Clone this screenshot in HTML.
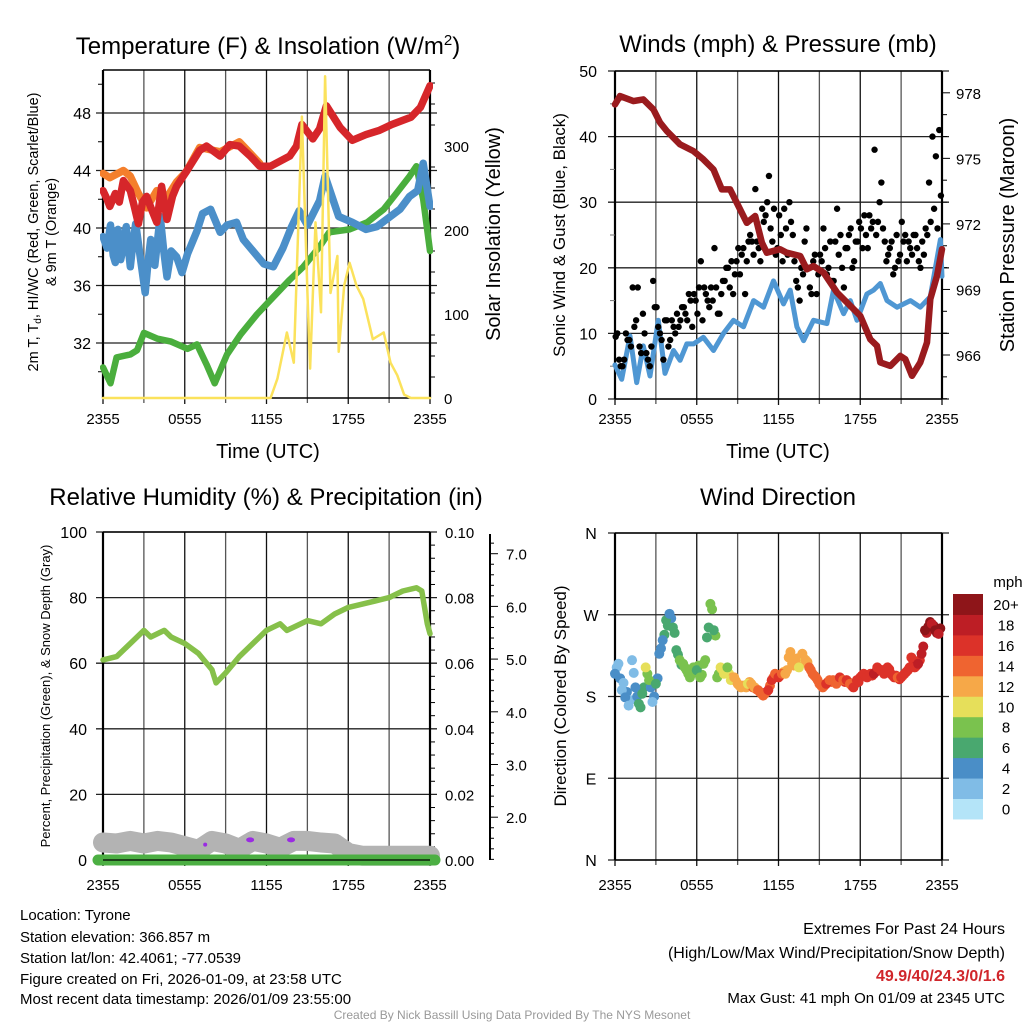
<!DOCTYPE html>
<html><head><meta charset="utf-8"><style>
body{margin:0;background:#fff}
svg{display:block;font-family:"Liberation Sans",sans-serif}
</style></head><body>
<svg id="c" width="1024" height="1024" viewBox="0 0 1024 1024" xmlns="http://www.w3.org/2000/svg">
<rect width="1024" height="1024" fill="#fff"/>
<g id="p1"></g>
<g id="p2"></g>
<g id="p3"></g>
<g id="p4"></g>
<text x="268" y="54" font-size="24" text-anchor="middle">Temperature (F) &amp; Insolation (W/m<tspan dy="-9" font-size="15">2</tspan><tspan dy="9">)</tspan></text>
<text x="778" y="52" font-size="24" text-anchor="middle">Winds (mph) &amp; Pressure (mb)</text>
<text x="266" y="505" font-size="24" text-anchor="middle">Relative Humidity (%) &amp; Precipitation (in)</text>
<text x="778" y="505" font-size="24" text-anchor="middle">Wind Direction</text>
<text x="268" y="458" font-size="20" text-anchor="middle">Time (UTC)</text>
<text x="778" y="458" font-size="20" text-anchor="middle">Time (UTC)</text>
<text transform="translate(38,232) rotate(-90)" font-size="14.5" text-anchor="middle">2m T, T<tspan dy="3" font-size="10">d</tspan><tspan dy="-3">, HI/WC (Red, Green, Scarlet/Blue)</tspan></text>
<text transform="translate(56,232) rotate(-90)" font-size="14.5" text-anchor="middle">&amp; 9m T (Orange)</text>
<text transform="translate(500,234) rotate(-90)" font-size="20" text-anchor="middle">Solar Insolation (Yellow)</text>
<text transform="translate(565,235) rotate(-90)" font-size="17" text-anchor="middle">Sonic Wind &amp; Gust (Blue, Black)</text>
<text transform="translate(1014,235) rotate(-90)" font-size="20" text-anchor="middle">Station Pressure (Maroon)</text>
<text transform="translate(50,696) rotate(-90)" font-size="13" text-anchor="middle">Percent, Precipitation (Green), &amp; Snow Depth (Gray)</text>
<text transform="translate(566,696) rotate(-90)" font-size="17" text-anchor="middle">Direction (Colored By Speed)</text>
<g font-size="15">
<text x="20" y="920">Location: Tyrone</text>
<text x="20" y="942">Station elevation: 366.857 m</text>
<text x="20" y="963">Station lat/lon: 42.4061; -77.0539</text>
<text x="20" y="984">Figure created on Fri, 2026-01-09, at 23:58 UTC</text>
<text x="20" y="1004">Most recent data timestamp: 2026/01/09 23:55:00</text>
</g>
<g font-size="16" text-anchor="end">
<text x="1005" y="934">Extremes For Past 24 Hours</text>
<text x="1005" y="958">(High/Low/Max Wind/Precipitation/Snow Depth)</text>
<text x="1005" y="981" fill="#d0262b" font-weight="bold">49.9/40/24.3/0/1.6</text>
<text x="1005" y="1003" font-size="15">Max Gust: 41 mph On 01/09 at 2345 UTC</text>
</g>
<text x="512" y="1019" font-size="12" fill="#999" text-anchor="middle">Created By Nick Bassill Using Data Provided By The NYS Mesonet</text>
</svg>
<script>
// ---- Temperature panel data (hour, value) ----
const redH=[0,0.3,0.5,0.9,1.2,1.5,2,2.3,2.6,2.9,3.2,3.6,3.95,4.3,4.7,5.1,5.4,6.1,7.1,7.6,8.6,9.3,10,10.8,11.5,12.3,13.7,14.2,14.6,15.4,15.9,16.4,17.4,18.3,19.3,20.3,21.2,22.6,23.3,24];
const redV=[42.6,42,41.5,42.4,41.8,43.3,42.6,41.5,40.3,41.8,42.2,41.2,40.4,42.9,40.6,42.2,42.9,43.9,45.4,45.7,45,45.8,45.7,45,44.3,44.3,45,45.7,47.2,46.2,46.9,48.5,47,46.1,46.5,46.8,47.2,47.7,48.4,49.9];
const orH=[0,0.5,1.5,2,2.6,3.2,3.95,4.6,5.4,6.1,7.1,8.6,10,11.5];
const orV=[43.8,43.5,44,43.6,42.4,41.4,42.6,42,43.2,43.9,45.6,45.3,46,44.5];
const blueH=[0,0.3,0.55,0.75,0.9,1.1,1.3,1.5,1.7,2,2.2,2.4,2.7,3.1,3.3,3.5,3.8,4.2,4.45,4.7,5,5.4,5.8,6.2,6.9,7.3,7.9,8.6,9.1,9.8,10.3,11.8,12.5,13.2,13.8,14.4,15,15.9,16.3,17.3,18.3,19.3,20.1,21.8,22.5,23.1,23.5,24];
const blueV=[39.4,38.6,40.2,38.1,37.6,39.9,37.8,38.7,40.1,37.3,39,40.3,38.2,35.5,37.6,39.2,37.4,40.8,38.5,36.6,38.4,38,36.9,38.2,39.8,41,41.3,39.7,40.2,40.4,39.2,37.5,37.3,38.6,40,41.2,40.2,41.9,43.6,40.8,40.4,39.9,40.1,41.3,42.2,42.6,44.5,41.5];
const grnH=[0,0.55,1,2,2.5,3,4,5,6.2,6.9,7.6,8.2,9.1,10.1,11.3,12.3,13.7,14.7,15.9,16.6,18.1,19.4,20.6,21.6,22.5,23,23.5,24];
const grnV=[30.3,29.2,31,31.2,31.5,32.7,32.3,32.1,31.6,31.9,30.5,29.2,31.2,32.6,34,35,36.4,37.3,38.7,39.7,39.9,40.4,41.3,42.5,43.6,44.3,42,38.4];
const solH=[0,12.3,12.8,13.5,14,14.6,15,15.2,15.6,16,16.3,16.7,17.2,17.3,17.7,18.1,18.6,19.1,19.8,20.6,21.1,21.6,22.1,22.6,24];
const solV=[0,0,23,78,42,335,126,35,209,102,383,125,169,55,134,161,134,118,70,78,42,27,4,0,0];
const tempTicks=[32,36,40,44,48];
const solTicks=[0,100,200,300];
const timeLabels=["2355","0555","1155","1755","2355"];
// ---- Winds panel data ----
const presH=[0,0.37,1.35,2.08,2.82,3.31,3.8,4.78,5.76,6.49,7.23,7.84,8.45,9.06,9.67,10.29,10.78,11.14,12.12,12.61,13.59,14.08,14.57,15.31,16.29,17.27,18,18.74,19.23,19.47,20.21,20.94,21.31,21.8,22.41,22.9,23.14,23.63,24];
const presV=[977.47,977.85,977.62,977.7,977.24,976.63,976.25,975.64,975.33,974.95,974.49,973.58,973.58,972.82,972.05,972.36,971.14,970.68,970.84,970.68,970.53,969.92,970.07,969.77,968.86,968.25,967.79,966.72,966.42,965.66,965.5,965.96,965.81,965.05,965.66,966.57,968.56,969.62,970.84];
const windH=[0,0.49,1.1,1.59,2.08,2.57,3.18,3.67,4.29,4.78,5.27,5.76,6.49,7.23,7.96,8.7,9.43,10.17,10.9,11.63,12.37,12.86,13.35,13.84,14.57,15.55,16.04,16.78,17.27,17.76,18.49,18.98,19.47,19.96,20.7,21.68,22.41,23.14,23.88,24];
const windV=[5.2,3,9.6,2.5,8.1,3.5,12,3.9,7.4,5.9,8.4,8.4,9.4,7.4,10,12,11,15,14,18,14.5,16.6,11,8.9,12,11.5,16.6,13,15,12,16,16.6,17.6,15,14,15,14,15.6,24.3,18.7];
const gustA=[9.5,6,5,10,9,17,12,8,13,7,5,18,14,10,6,12,9,11,13,12,14,12,15,16,13,21,17,15,17,23,13,16,18,20,21,19,23,22,16,24,24,32,23,29,28,34,24,22,28,21,26,30,25,18,15,19,26,17,21,16,22,26,19,24,18,29,25,17,23,26,21,24,26,28,23,26,38,27,33,24,22,24,20,21,27,25,24,22,25,21,24,26,33,40,37,41];
const gustB=[10,5,6,9,8,11,17,7,10,6,8,14,11,9,12,8,12,10,11,14,13,16,11,15,17,12,16,14,15,17,13,18,20,17,16,21,19,23,21,25,22,24,21,27,30,26,29,23,25,29,22,27,21,17,20,24,20,16,22,19,21,23,20,18,24,22,20,23,25,20,24,27,23,25,28,27,25,30,26,21,23,19,25,22,24,21,23,25,23,20,22,25,27,29,26,31];
const windTicks=[0,10,20,30,40,50];
const presTicks=[966,969,972,975,978];
// ---- Humidity panel data ----
const rhH=[0,1,2,3,3.5,4.5,5,6,7,8,8.3,9,10,11,12,13,13.5,14,15,16,17,18,19,20,21,22,23,23.4,23.8,24];
const rhV=[61,62,66,70,68,70,68,66,63,58,54,57,62,66,70,72,70,71,73,72,75,77,78,79,80,82,83,82,72,69];
const snowH=[0,1,2,3,4,5,6,7,8,9,10,11,12,13,14,15,16,17,18,19,20,21,22,23,24];
const snowV=[1.52,1.5,1.55,1.5,1.55,1.52,1.45,1.38,1.55,1.5,1.4,1.55,1.5,1.42,1.55,1.55,1.52,1.5,1.32,1.27,1.27,1.27,1.27,1.27,1.27];
const purpleH=[7.5,10.8,13.8];
const purpleV=[1.48,1.57,1.57];
const rhTicks=[0,20,40,60,80,100];
const precTicks=["0.00","0.02","0.04","0.06","0.08","0.10"];
const snowTicks=["2.0","3.0","4.0","5.0","6.0","7.0"];
// ---- Wind direction data (every 15 min) ----
const dirV=[205,216,187,179,170,220,190,172,183,212,198,174,194,227,242,264,271,256,231,220,216,209,201,212,209,201,216,245,282,253,201,212,205,212,198,201,194,190,192,194,194,190,187,183,183,187,198,205,201,205,205,223,216,220,212,227,220,212,205,201,194,190,194,198,198,194,201,198,198,194,190,198,201,205,201,205,205,212,209,205,212,205,201,201,201,205,209,223,212,216,227,253,257,260,253,249];
const spdV=[4,3,2,5,3,2,4,7,6,10,8,3,6,4,5,7,4,6,7,8,8,9,8,9,7,9,8,7,8,7,9,10,10,9,11,12,12,13,12,11,13,13,15,14,15,16,16,15,16,14,13,12,13,12,11,12,13,14,15,14,15,14,16,15,14,15,16,15,16,15,16,17,16,17,17,16,18,17,16,17,16,17,16,15,16,17,17,16,17,18,19,20,21,19,20,19];
const dirV2=[212,200,195,185,176,206,180,168,190,205,190,180,200,233,248,258,266,250,226,215,212,205,205,209,214,204,220,256,276,247,205,209,209,205,201,197,192,192,190,196,190,188,185,181,185,192,201,203,203,207,209,229,214,222,216,222,218,209,203,198,192,192,196,196,196,198,199,196,196,192,194,196,203,203,203,203,207,210,209,207,210,203,203,199,203,207,212,220,214,220,235,250,262,258,250,255];
const spdV2=[3,4,3,4,2,3,5,6,7,9,5,4,5,5,6,6,5,7,7,7,9,8,8,8,8,8,9,6,9,8,8,11,9,10,12,12,13,13,12,12,14,14,14,15,16,15,15,16,14,13,12,12,12,13,12,11,12,14,14,15,14,15,15,14,15,16,15,16,15,16,17,16,17,16,16,17,17,16,17,18,17,16,17,16,15,16,16,17,18,17,18,19,20,20,21,20];
const cbLabels=["0","2","4","6","8","10","12","14","16","18","20+"];
const cbColors=["#b4e4f8","#80bce6","#4a8ec7","#49a86f","#7ac24e","#e6df5a","#f6a848","#ef6430","#dc3229","#bd1e25","#8e1519"];
const dirLabels=["N","E","S","W","N"];

const NS="http://www.w3.org/2000/svg";
function mk(parent,tag,attrs){const e=document.createElementNS(NS,tag);for(const k in attrs)e.setAttribute(k,attrs[k]);parent.appendChild(e);return e;}
function poly(g,H,V,xf,yf,stroke,w){return mk(g,"polyline",{points:H.map((h,i)=>xf(h).toFixed(1)+","+yf(V[i]).toFixed(1)).join(" "),fill:"none",stroke:stroke,"stroke-width":w,"stroke-linejoin":"round","stroke-linecap":"round"});}

function frame(g,x0,x1,y0,y1,hy){
  for(let i=0;i<=8;i++){const x=x0+(x1-x0)*i/8;const l=mk(g,"line",{x1:x,x2:x,y1:y0,y2:y1+(i%2==0?6:5),stroke:i%2==0?"#111":"#555","stroke-width":1.3});
    
    }
  hy.forEach(y=>{const l=mk(g,"line",{x1:x0-7,x2:x1+7,y1:y,y2:y,stroke:"#222","stroke-width":1.3});
    
    });
  mk(g,"line",{x1:x0,x2:x1,y1:y0,y2:y0,stroke:"#000","stroke-width":1.5});
  mk(g,"line",{x1:x0,x2:x1,y1:y1,y2:y1,stroke:"#000","stroke-width":1.5});
  mk(g,"line",{x1:x0,x2:x0,y1:y0,y2:y1,stroke:"#000","stroke-width":2.2});
  mk(g,"line",{x1:x1,x2:x1,y1:y0,y2:y1,stroke:"#000","stroke-width":2.2});
}
function xlabels(g,x0,x1,y){timeLabels.forEach((t,i)=>{const e=mk(g,"text",{x:x0+(x1-x0)*i/4,y:y,"font-size":15,"text-anchor":"middle"});e.textContent=t;
  
  });}
function lab(g,x,y,t,anchor,size){const e=mk(g,"text",{x:x,y:y,"font-size":size||15,"text-anchor":anchor});e.textContent=t;return e;}

// ===== Panel 1 =====
(function(){
 const g=document.getElementById("p1");const X0=103,X1=430,Y0=70,Y1=398;
 const xs=h=>X0+(X1-X0)*h/24; const yt=v=>113+(48-v)*14.375; const ys=v=>398-v*0.84;
 frame(g,X0,X1,Y0,Y1,tempTicks.map(yt));
 for(let v=30;v<=50;v+=2){if(v%4)mk(g,"line",{x1:X0-5,x2:X0,y1:yt(v),y2:yt(v),stroke:"#000"});}
 for(let v=25;v<=375;v+=25){if(v%100)mk(g,"line",{x1:X1,x2:X1+5,y1:ys(v),y2:ys(v),stroke:"#000"});}
 tempTicks.forEach(v=>{const e=lab(g,X0-12,yt(v)+6,v,"end",16);});
 solTicks.forEach(v=>{const e=lab(g,X1+14,ys(v)+6,v,"start",15);});
 xlabels(g,X0,X1,424);
 const cl=mk(g,"g",{"clip-path":"url(#c1)"});
 const cp=mk(mk(g,"defs",{}),"clipPath",{id:"c1"});mk(cp,"rect",{x:X0-3,y:Y0,width:X1-X0+6,height:Y1-Y0+2});
 let l;
 l=poly(cl,grnH,grnV,xs,yt,"#4aae3d",6.5);
 l=poly(cl,blueH,blueV,xs,yt,"#4b8fc9",7.5);
 l=poly(cl,orH,orV,xs,yt,"#f47f2c",7.5);
 l=poly(cl,redH,redV,xs,yt,"#d6262a",7.5);
 l=poly(cl,solH,solV,xs,ys,"#fbe25c",2.5);
})();

// ===== Panel 2 =====
(function(){
 const g=document.getElementById("p2");const X0=615,X1=942,Y0=71,Y1=399;
 const xs=h=>X0+(X1-X0)*h/24; const yw=v=>399-v*6.56; const yp=v=>355-(v-966)*21.85;
 frame(g,X0,X1,Y0,Y1,windTicks.map(yw));
 for(let v=5;v<50;v+=10)mk(g,"line",{x1:X0-5,x2:X0,y1:yw(v),y2:yw(v),stroke:"#777"});
 for(let v=964;v<=980;v++){if(yp(v)>Y0&&yp(v)<Y1)mk(g,"line",{x1:X1,x2:X1+(v%3==0?8:5),y1:yp(v),y2:yp(v),stroke:"#000"});}
 windTicks.forEach(v=>{const e=lab(g,X0-18,yw(v)+6,v,"end",16);});
 presTicks.forEach(v=>{const e=lab(g,X1+14,yp(v)+6,v,"start",15);});
 xlabels(g,X0,X1,424);
 let l=poly(g,windH,windV,xs,yw,"#4f97d3",5);
 gustA.forEach((v,i)=>{const c=mk(g,"circle",{cx:xs(i*0.25+0.05),cy:yw(v),r:3.2,fill:"#000"});});
 gustB.forEach((v,i)=>{const c=mk(g,"circle",{cx:xs(i*0.25+0.17),cy:yw(v),r:3.2,fill:"#000"});});
 l=poly(g,presH,presV,xs,yp,"#9a1b1e",6.5);
})();

// ===== Panel 3 =====
(function(){
 const g=document.getElementById("p3");const X0=103,X1=430,Y0=532,Y1=860;
 const xs=h=>X0+(X1-X0)*h/24; const yr=v=>860-v*3.28; const ysn=v=>922.6-v*52.7;
 frame(g,X0,X1,Y0,Y1,rhTicks.map(yr));
 for(let v=0;v<=100;v+=4){if(v%20)mk(g,"line",{x1:X1,x2:X1+5,y1:yr(v),y2:yr(v),stroke:"#000"});}
 rhTicks.forEach(v=>{const e=lab(g,X0-16,yr(v)+6,v,"end",16);});
 precTicks.forEach((t,i)=>{const e=lab(g,X1+15,yr(i*20)+6,t,"start",15);});
 mk(g,"line",{x1:490,x2:490,y1:Y0+2,y2:Y1,stroke:"#000","stroke-width":2});
 for(let v=1.2;v<=7.5;v+=0.2){const y=ysn(v);if(y<Y0+2||y>Y1)continue;const maj=Math.abs(v-Math.round(v))<0.01;mk(g,"line",{x1:490,x2:490+(maj?8:4),y1:y,y2:y,stroke:"#000"});}
 snowTicks.forEach(t=>{const e=lab(g,506,ysn(parseFloat(t))+6,t,"start",15);});
 xlabels(g,X0,X1,890);
 let l=poly(g,snowH,snowV,xs,ysn,"#b3b3b3",20);
 purpleH.forEach((h,i)=>{const c=mk(g,"ellipse",{cx:xs(h),cy:ysn(purpleV[i]),rx:i?4:2,ry:i?2.5:2,fill:"#9a2be2"});});
 l=mk(g,"line",{x1:X0-5,x2:X1+5,y1:Y1,y2:Y1,stroke:"#4caf43","stroke-width":11,"stroke-linecap":"round"});
 mk(g,"line",{x1:X0,x2:X1,y1:Y1,y2:Y1,stroke:"#000","stroke-width":1.3});
 l=poly(g,rhH,rhV,xs,yr,"#86c04a",5.5);
})();

// ===== Panel 4 =====
(function(){
 const g=document.getElementById("p4");const X0=615,X1=942,Y0=533,Y1=860;
 const xs=h=>X0+(X1-X0)*h/24; const yd=v=>860-v*(Y1-Y0)/360;
 frame(g,X0,X1,Y0,Y1,[0,90,180,270,360].map(yd));
 dirLabels.forEach((t,i)=>{const e=lab(g,591,yd(i*90)+6,t,"middle",16);});
 xlabels(g,X0,X1,890);
 function dots(D,S,off){D.forEach((d,i)=>{const bin=Math.min(10,Math.floor(S[i]/2));
   const c=mk(g,"circle",{cx:xs(Math.min(24,i*0.25+off)),cy:yd(d),r:5,fill:cbColors[bin]});
   
   });}
 dots(dirV2,spdV2,0.125);
 dots(dirV,spdV,0);
 const cb=mk(g,"g",{});
 const top=594,bh=20.45;
 cbColors.forEach((c,i)=>{const r=mk(cb,"rect",{x:953,y:top+(10-i)*bh,width:30,height:bh+0.5,fill:c});});
 cbLabels.forEach((t,i)=>{const e=lab(cb,1006,top+(10-i)*bh+16,t,"middle",15);});
 const m=lab(cb,1008,587,"mph","middle",15);
})();
</script>
</body></html>
